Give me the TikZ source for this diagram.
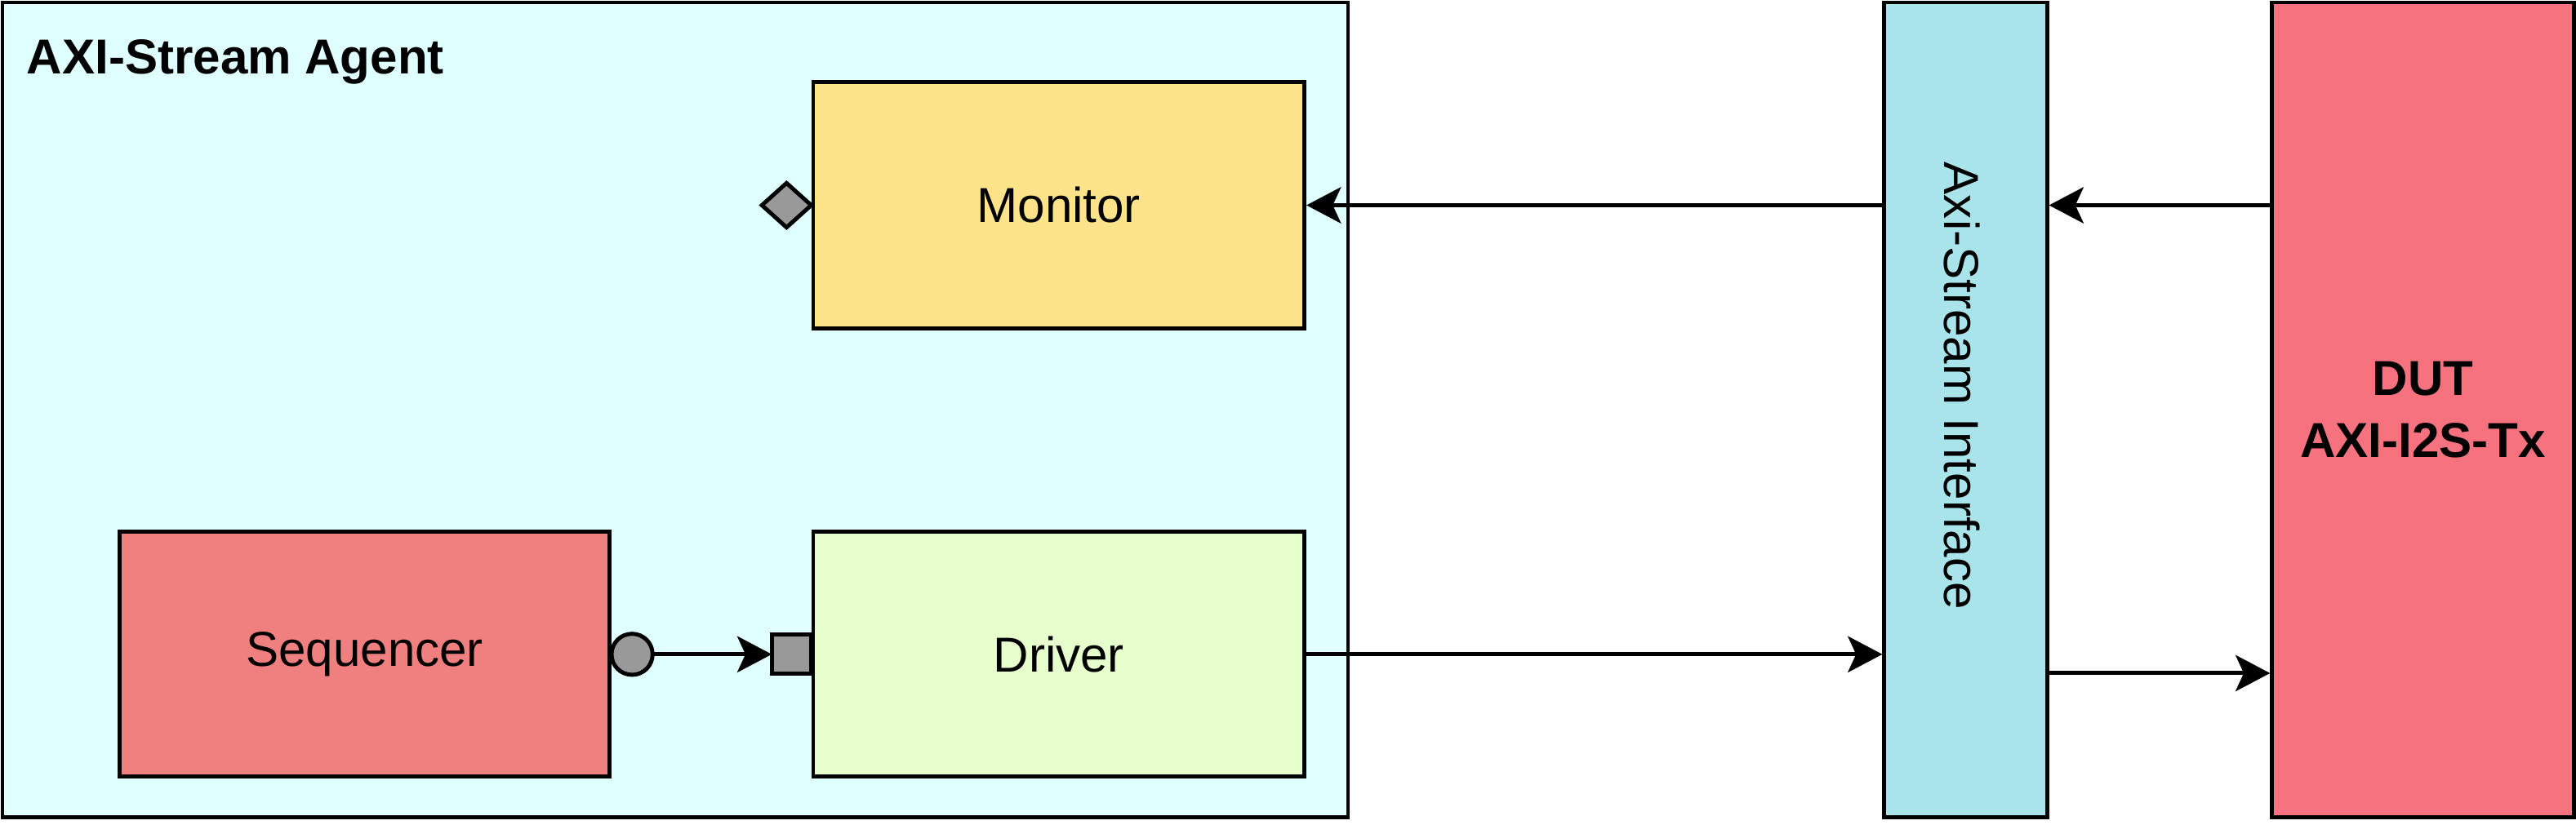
\documentclass[tikz,border=0pt]{standalone}
\usepackage{fontspec}
\setmainfont{Liberation Sans}
\usepackage{xcolor}
\usetikzlibrary{shapes.geometric,arrows.meta,positioning,calc}

\definecolor{agentbg}{HTML}{E0FFFF}
\definecolor{monbg}{HTML}{FDE38A}
\definecolor{seqbg}{HTML}{F08080}
\definecolor{drvbg}{HTML}{E6FFCC}
\definecolor{intfbg}{HTML}{A8E4EA}
\definecolor{dutbg}{HTML}{F7727F}
\definecolor{portgray}{HTML}{999999}

\tikzset{
  blk/.style={draw, line width=1.4pt, inner sep=0pt, font=\fontsize{17}{21.6}\selectfont},
  port/.style={draw, line width=1.4pt, fill=portgray, inner sep=0pt, outer sep=0pt},
  arr/.style={line width=1.4pt, -{Stealth[length=4.2mm, width=4.4mm, inset=1mm]}},
}

\begin{document}
\begin{tikzpicture}[x=0.2mm, y=-0.2mm]
    \useasboundingbox (0,0) rectangle (1568,502);

    % Agent
    \node[blk, fill=agentbg, minimum width=16.38cm, minimum height=9.92cm] (agent) at (411,249.5) {};
    \node[font=\fontsize{17}{20}\selectfont\bfseries, anchor=base west, inner sep=0pt] (agenttitle) at (16,45) {AXI-Stream Agent};

    \node[blk, fill=monbg, minimum width=5.98cm, minimum height=3cm] (mon) at (644.5,125) {Monitor};
    \node[blk, fill=seqbg, minimum width=5.96cm, minimum height=2.98cm] (seq) at (222,398.5) {Sequencer};
    \node[blk, fill=drvbg, minimum width=5.98cm, minimum height=2.98cm] (drv) at (644.5,398.5) {Driver};

    % Ports
    \node[port, diamond, minimum width=0.6cm, minimum height=0.54cm, anchor=east] (monport) at (mon.west) {};
    \node[port, circle, minimum size=0.5cm, anchor=west] (seqport) at (seq.east) {};
    \node[port, rectangle, minimum size=0.48cm, anchor=east] (drvport) at (drv.west) {};

    % Interface and DUT
    \node[blk, fill=intfbg, minimum width=1.98cm, minimum height=9.92cm] (intf) at (1196.5,249.5) {};
    \node[font=\fontsize{17}{20}\selectfont, rotate=-90, inner sep=0pt] (intflabel) at (1194,235) {Axi-Stream Interface};
    \node[blk, fill=dutbg, minimum width=3.67cm, minimum height=9.92cm, font=\fontsize{17}{21.6}\selectfont\bfseries, align=center] (dut) at (1474.75,249.5) {DUT\\AXI-I2S-Tx};

    % Connections
    \draw[arr] (seqport.east) -- (drvport.west);
    \draw[arr] (intf.west |- mon.east) -- (mon.east);
    \draw[arr] (dut.west |- mon.east) -- (intf.east |- mon.east);
    \draw[arr] (drv.east) -- (intf.west |- drv.east);
    \draw[arr] (intf.east |- 0,410) -- (dut.west |- 0,410);

\end{tikzpicture}
\end{document}
